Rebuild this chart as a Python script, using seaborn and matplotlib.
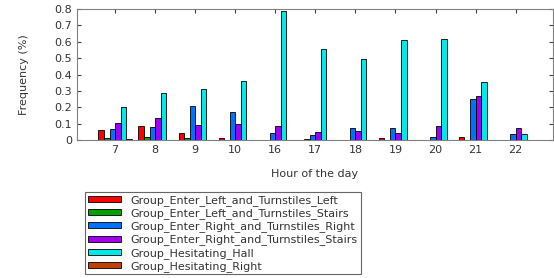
import pandas as pd
import matplotlib
matplotlib.use("Agg")
import matplotlib.pyplot as plt
import seaborn as sns

# hours shown on the x axis (categorical)
hours = ["7", "8", "9", "10", "16", "17", "18", "19", "20", "21", "22"]

groups = [
    "Group_Enter_Left_and_Turnstiles_Left",
    "Group_Enter_Left_and_Turnstiles_Stairs",
    "Group_Enter_Right_and_Turnstiles_Right",
    "Group_Enter_Right_and_Turnstiles_Stairs",
    "Group_Hesitating_Hall",
    "Group_Hesitating_Right",
]

# frequency values, one list per group
left_left = [0.061, 0.084, 0.041, 0.010, 0.0, 0.003, 0.002, 0.014, 0.002, 0.022, 0.0]
left_stairs = [0.012, 0.018, 0.010, 0.0, 0.0, 0.008, 0.002, 0.0, 0.002, 0.0, 0.0]
right_right = [0.065, 0.080, 0.206, 0.169, 0.045, 0.030, 0.075, 0.071, 0.018, 0.250, 0.035]
right_stairs = [0.104, 0.133, 0.090, 0.096, 0.084, 0.047, 0.057, 0.041, 0.088, 0.270, 0.075]
hesitating_hall = [0.200, 0.288, 0.310, 0.363, 0.790, 0.555, 0.494, 0.610, 0.616, 0.353, 0.035]
hesitating_right = [0.004, 0.0, 0.0, 0.0, 0.0, 0.0, 0.0, 0.003, 0.003, 0.0, 0.0]

colors = ["#FF0000", "#00A000", "#0070FF", "#A000F0", "#00E8E8", "#C04000"]

series = [left_left, left_stairs, right_right, right_stairs, hesitating_hall, hesitating_right]
rows = []
for g, vals in zip(groups, series):
    for h, v in zip(hours, vals):
        rows.append({"hour": h, "freq": v, "group": g})
df = pd.DataFrame(rows)

sns.set_style("ticks")
plt.rcParams["font.family"] = ["DejaVu Sans"]

fig = plt.figure(figsize=(5.54, 2.78), dpi=100)
ax = fig.add_axes([0.139, 0.496, 0.859, 0.472])

sns.barplot(data=df, x="hour", y="freq", hue="group", order=hours, hue_order=groups,
            palette=colors, width=0.83, gap=0, edgecolor="black", linewidth=0.6,
            saturation=1, ax=ax)

ax.set_xlim(-0.95, 10.93)
ax.set_ylim(0, 0.8)
ax.set_yticks([i / 10 for i in range(9)])
ax.set_yticklabels(["0"] + [f"{i / 10:.1f}" for i in range(1, 9)])
ax.tick_params(direction="in", top=True, right=True, labelsize=8, length=3,
               color="#404040", labelcolor="#333333")
for s in ax.spines.values():
    s.set_color("#808080")
    s.set_linewidth(0.8)

ax.set_xlabel("Hour of the day", fontsize=8, color="#333333", labelpad=10)
ax.set_ylabel("Frequency (%)", fontsize=8, color="#333333", labelpad=18)

handles, labels = ax.get_legend_handles_labels()
ax.legend_.remove()
leg = fig.legend(handles, labels, loc="upper left", bbox_to_anchor=(0.153, 0.308),
                 fontsize=8, frameon=True, fancybox=False, handlelength=3.0,
                 handleheight=0.45, labelspacing=0.2, borderpad=0.25,
                 handletextpad=0.9, borderaxespad=0)
leg.get_frame().set_edgecolor("#404040")
leg.get_frame().set_linewidth(0.8)
for t in leg.get_texts():
    t.set_color("#333333")

fig.savefig("out.png", dpi=100)
